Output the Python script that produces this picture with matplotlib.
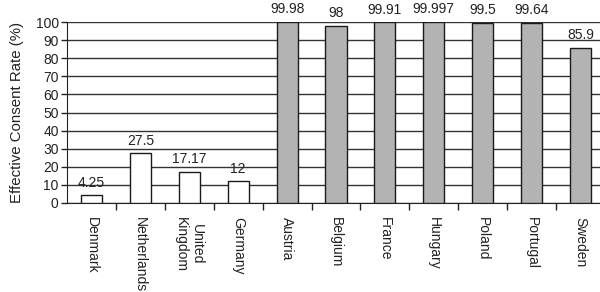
import matplotlib.pyplot as plt
import numpy as np

countries = ["Denmark", "Netherlands", "United\nKingdom", "Germany", "Austria",
             "Belgium", "France", "Hungary", "Poland", "Portugal", "Sweden"]
rates = [4.25, 27.5, 17.17, 12, 99.98, 98, 99.91, 99.997, 99.5, 99.64, 85.9]
rate_labels = ["4.25", "27.5", "17.17", "12", "99.98", "98", "99.91", "99.997",
               "99.5", "99.64", "85.9"]
opt_in = [True, True, True, True, False, False, False, False, False, False, False]

plt.rcParams["font.family"] = ["Liberation Sans", "DejaVu Sans"]

fig = plt.figure(figsize=(6, 2.92), dpi=100)
ax = fig.add_axes([67 / 600, 1 - 203 / 292, 538 / 600, 181 / 292])

x = np.arange(len(countries))
colors = ["white" if o else "#b3b3b3" for o in opt_in]
ax.bar(x, rates, width=0.43, color=colors, edgecolor="#1a1a1a", linewidth=1.0, zorder=3)

for xi, v, lab in zip(x, rates, rate_labels):
    ax.annotate(lab, (xi, v), xytext=(0, 4), textcoords="offset points",
                ha="center", va="bottom", fontsize=10, color="#222222",
                annotation_clip=False)

ax.set_xlim(-0.5, len(countries) - 0.5)
ax.set_ylim(0, 100)
ax.set_yticks(range(0, 101, 10))
ax.tick_params(axis="y", labelsize=10, length=4, width=1, colors="#222222", pad=2)
ax.yaxis.grid(True, color="#333333", linewidth=1.0, zorder=0)
ax.set_axisbelow(True)

ax.set_xticks(x)
ax.set_xticklabels(countries, rotation=270, fontsize=10, va="top", ha="center",
                   color="#222222")
ax.tick_params(axis="x", which="major", length=0, pad=10)
ax.set_xticks(x[:-1] + 0.5, minor=True)
ax.tick_params(axis="x", which="minor", length=5, width=1, color="#222222")

for s in ["top", "right"]:
    ax.spines[s].set_visible(False)
ax.spines["left"].set_color("#222222")
ax.spines["bottom"].set_color("#222222")

ax.set_ylabel("Effective Consent Rate (%)", fontsize=10.8, color="#222222", labelpad=8)

fig.savefig("out.png", dpi=100)
